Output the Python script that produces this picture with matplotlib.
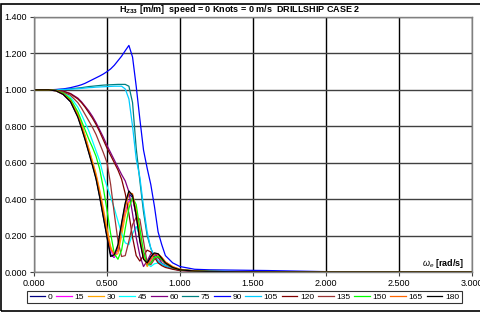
import matplotlib
matplotlib.use('Agg')
import matplotlib.pyplot as plt
from matplotlib.patches import Rectangle

plt.rcParams['font.family'] = ['Liberation Sans', 'DejaVu Sans']
plt.rcParams['mathtext.fontset'] = 'custom'
plt.rcParams['mathtext.rm'] = 'Liberation Sans'
plt.rcParams['mathtext.bf'] = 'Liberation Sans:bold'
plt.rcParams['mathtext.it'] = 'Liberation Sans:italic'

# wave frequency [rad/s]
w = [0, 0.1, 0.15, 0.2, 0.25, 0.3, 0.325, 0.35, 0.375, 0.4, 0.425, 0.45, 0.475,
     0.5, 0.525, 0.55, 0.575, 0.6, 0.625, 0.65, 0.675, 0.7, 0.725, 0.75, 0.775,
     0.8, 0.825, 0.85, 0.875, 0.9, 0.95, 1.0, 1.1, 1.2, 1.4, 1.6, 2.0, 3.0]

h0 = [1.0, 1.0, 0.995, 0.975, 0.935, 0.855, 0.795, 0.73, 0.66, 0.59, 0.515, 0.415, 0.305,
      0.195, 0.095, 0.08, 0.14, 0.26, 0.37, 0.43, 0.41, 0.31, 0.175, 0.075, 0.045,
      0.08, 0.10, 0.095, 0.075, 0.05, 0.025, 0.012, 0.005, 0.003, 0.001, 0, 0, 0]
h15 = [1.0, 1.0, 0.995, 0.978, 0.94, 0.865, 0.81, 0.745, 0.675, 0.605, 0.53, 0.44, 0.335,
       0.22, 0.12, 0.08, 0.12, 0.23, 0.33, 0.39, 0.40, 0.33, 0.20, 0.09, 0.035,
       0.06, 0.09, 0.095, 0.08, 0.055, 0.028, 0.014, 0.006, 0.003, 0.001, 0, 0, 0]
h30 = [1.0, 1.0, 0.996, 0.98, 0.945, 0.87, 0.815, 0.75, 0.68, 0.61, 0.54, 0.45, 0.35,
       0.24, 0.14, 0.09, 0.10, 0.20, 0.31, 0.38, 0.40, 0.34, 0.22, 0.10, 0.03,
       0.05, 0.085, 0.09, 0.08, 0.055, 0.03, 0.015, 0.006, 0.003, 0.001, 0, 0, 0]
h45 = [1.0, 1.0, 0.996, 0.985, 0.96, 0.905, 0.865, 0.82, 0.775, 0.72, 0.665, 0.61, 0.53,
       0.47, 0.41, 0.35, 0.28, 0.21, 0.16, 0.15, 0.21, 0.25, 0.20, 0.11, 0.045,
       0.03, 0.045, 0.05, 0.04, 0.03, 0.018, 0.01, 0.005, 0.003, 0.001, 0, 0, 0]
h60 = [1.0, 1.0, 0.998, 0.993, 0.98, 0.955, 0.935, 0.91, 0.885, 0.855, 0.82, 0.78, 0.74,
       0.695, 0.655, 0.615, 0.575, 0.535, 0.50, 0.44, 0.32, 0.19, 0.09, 0.03, 0.06,
       0.10, 0.10, 0.08, 0.05, 0.035, 0.018, 0.009, 0.004, 0.002, 0.001, 0, 0, 0]
h75 = [1.0, 1.0, 1.001, 1.003, 1.006, 1.01, 1.012, 1.015, 1.018, 1.02, 1.022, 1.024, 1.026,
       1.027, 1.028, 1.029, 1.03, 1.03, 1.03, 1.02, 0.93, 0.68, 0.50, 0.33, 0.20,
       0.13, 0.085, 0.06, 0.045, 0.035, 0.02, 0.012, 0.006, 0.004, 0.002, 0.001, 0, 0]
h90 = [1.0, 1.0, 1.002, 1.005, 1.012, 1.022, 1.028, 1.036, 1.046, 1.056, 1.066, 1.076, 1.087,
       1.10, 1.115, 1.135, 1.16, 1.185, 1.215, 1.244, 1.18, 1.02, 0.84, 0.67, 0.57,
       0.48, 0.36, 0.22, 0.15, 0.09, 0.05, 0.03, 0.015, 0.012, 0.01, 0.008, 0.002, 0]
h105 = [1.0, 1.0, 1.0, 1.002, 1.004, 1.006, 1.008, 1.01, 1.012, 1.013, 1.015, 1.016, 1.017,
        1.018, 1.019, 1.02, 1.02, 1.02, 1.005, 0.95, 0.80, 0.62, 0.52, 0.36, 0.22,
        0.13, 0.08, 0.06, 0.045, 0.035, 0.02, 0.012, 0.006, 0.004, 0.002, 0.001, 0, 0]
h120 = [1.0, 1.0, 0.998, 0.992, 0.978, 0.95, 0.93, 0.905, 0.875, 0.845, 0.81, 0.77, 0.725,
        0.68, 0.64, 0.60, 0.56, 0.51, 0.43, 0.32, 0.19, 0.09, 0.06, 0.09, 0.12,
        0.11, 0.08, 0.05, 0.035, 0.025, 0.015, 0.008, 0.004, 0.002, 0.001, 0, 0, 0]
h135 = [1.0, 1.0, 0.997, 0.988, 0.97, 0.93, 0.90, 0.865, 0.83, 0.795, 0.755, 0.705, 0.655,
        0.60, 0.48, 0.32, 0.17, 0.085, 0.09, 0.17, 0.26, 0.30, 0.29, 0.17, 0.05,
        0.04, 0.07, 0.08, 0.065, 0.045, 0.022, 0.011, 0.005, 0.003, 0.001, 0, 0, 0]
h150 = [1.0, 1.0, 0.996, 0.982, 0.95, 0.88, 0.83, 0.78, 0.73, 0.685, 0.635, 0.565, 0.46,
        0.34, 0.21, 0.10, 0.07, 0.12, 0.24, 0.35, 0.41, 0.37, 0.24, 0.11, 0.04,
        0.05, 0.08, 0.085, 0.07, 0.05, 0.025, 0.013, 0.006, 0.003, 0.001, 0, 0, 0]
h165 = [1.0, 1.0, 0.995, 0.977, 0.94, 0.86, 0.80, 0.735, 0.665, 0.595, 0.525, 0.43, 0.325,
        0.215, 0.125, 0.10, 0.12, 0.24, 0.36, 0.435, 0.43, 0.33, 0.19, 0.08, 0.04,
        0.07, 0.10, 0.10, 0.08, 0.055, 0.028, 0.014, 0.006, 0.003, 0.001, 0, 0, 0]
h180 = [1.0, 1.0, 0.995, 0.975, 0.935, 0.85, 0.79, 0.725, 0.655, 0.585, 0.51, 0.41, 0.30,
        0.19, 0.085, 0.095, 0.15, 0.27, 0.38, 0.445, 0.42, 0.31, 0.17, 0.07, 0.05,
        0.085, 0.105, 0.10, 0.075, 0.05, 0.025, 0.012, 0.005, 0.003, 0.001, 0, 0, 0]

headings = ['0', '15', '30', '45', '60', '75', '90', '105', '120', '135', '150', '165', '180']
series = [h0, h15, h30, h45, h60, h75, h90, h105, h120, h135, h150, h165, h180]
colors = ['#000080', '#FF00FF', '#FFA500', '#00FFFF', '#800080', '#008080', '#0000FF',
          '#00CCFF', '#800000', '#993333', '#00FF00', '#FF6600', '#000000']

fig = plt.figure(figsize=(4.8, 3.12), dpi=100)
ax = fig.add_axes([34 / 480, 1 - 272 / 312, 438 / 480, 255 / 312])

for name, vals, c in zip(headings, series, colors):
    ax.plot(w, vals, color=c, lw=0.9, label=name)

ax.set_xlim(0, 3)
ax.set_ylim(0, 1.4)
ax.set_xticks([0, 0.5, 1, 1.5, 2, 2.5, 3])
ax.set_yticks([0, 0.2, 0.4, 0.6, 0.8, 1.0, 1.2, 1.4])
ax.xaxis.set_major_formatter(plt.FormatStrFormatter('%.3f'))
ax.yaxis.set_major_formatter(plt.FormatStrFormatter('%.3f'))
ax.tick_params(labelsize=6.5, length=3, width=0.8, color='#404040', pad=2)
ax.grid(axis='x', color='black', lw=1)
ax.grid(axis='y', color='#404040', lw=1)
ax.set_axisbelow(True)
for s in ax.spines.values():
    s.set_color('#808080')
    s.set_linewidth(1)

ax.text(2.66, 0.045, r'$\omega_e$ [rad/s]', fontsize=6.5, fontweight='bold', va='center', ha='left')

fig.text(0.5, 0.968, r'H$_{\mathbf{Z33}}$ [m/m]  speed = 0 Knots = 0 m/s  DRILLSHIP CASE 2',
         fontsize=6.5, fontweight='bold', ha='center', va='center')

leg = ax.legend(loc='center', bbox_to_anchor=(0.509, 0.048), bbox_transform=fig.transFigure,
                ncol=13, fontsize=6, frameon=True, fancybox=False, handlelength=1.9,
                handletextpad=0.3, columnspacing=0.45, borderpad=0.3, borderaxespad=0)
leg.get_frame().set_edgecolor('black')
leg.get_frame().set_linewidth(0.8)

fig.patches.append(Rectangle((0.5 / 480, 1 / 312), 1.2, 1 - 5 / 312, transform=fig.transFigure,
                             fill=False, edgecolor='black', lw=1.2))

fig.savefig('out.png', dpi=100)
